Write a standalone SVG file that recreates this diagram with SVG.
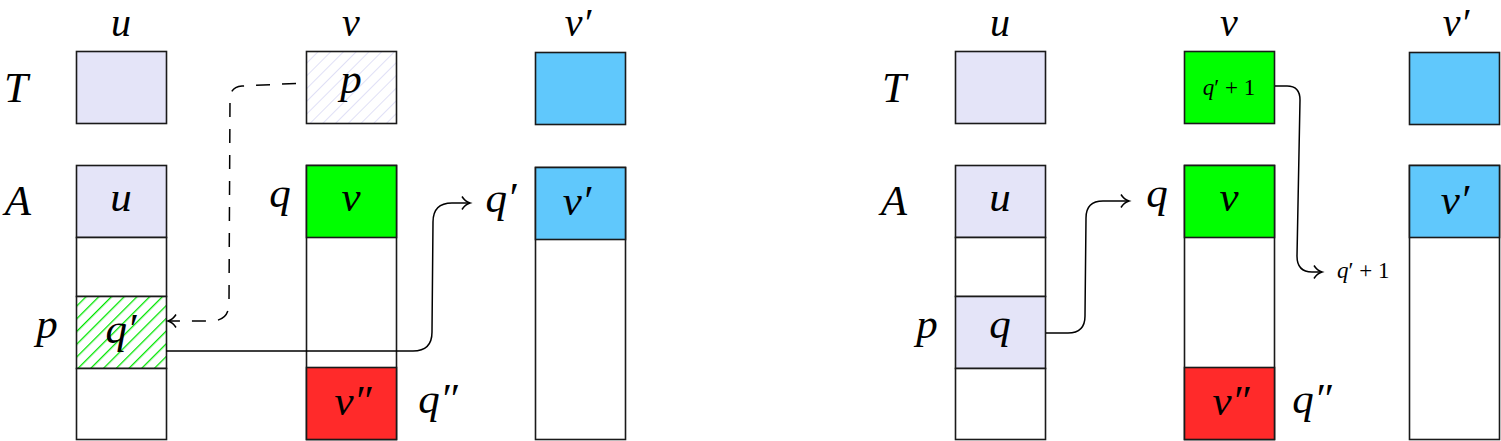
<svg xmlns="http://www.w3.org/2000/svg" width="1501" height="441" viewBox="0 0 1501 441">
<style>
.cell{stroke:#1a1a1a;stroke-width:1.6}
.lav{fill:#e4e4f8}
.grn{fill:#00ff00}
.red{fill:#ff2a2a}
.blu{fill:#60c8fc}
.wht{fill:#ffffff}
.m{font-family:"Liberation Serif","Times New Roman",serif;font-style:italic;font-size:43px;fill:#000;text-anchor:middle}
.top{font-size:40px}
.s{font-family:"Liberation Serif","Times New Roman",serif;font-size:23px;fill:#000}
.i{font-style:italic}
.conn{fill:none;stroke:#000;stroke-width:1.5}
.dash{stroke-dasharray:14 12;stroke-dashoffset:16}
</style>
<defs>
<pattern id="hatchLav" patternUnits="userSpaceOnUse" width="9" height="9" patternTransform="rotate(45)">
<rect width="9" height="9" fill="#fff"/>
<line x1="0" y1="0" x2="0" y2="9" stroke="#d8d8f4" stroke-width="1.6"/>
</pattern>
<pattern id="hatchGrn" patternUnits="userSpaceOnUse" width="9" height="9" patternTransform="rotate(45)">
<rect width="9" height="9" fill="#fff"/>
<line x1="0" y1="0" x2="0" y2="9" stroke="#00e600" stroke-width="2.6"/>
</pattern>
<marker id="to" markerWidth="14" markerHeight="16" refX="11" refY="8" orient="auto" markerUnits="userSpaceOnUse">
<path d="M3,1.5 Q6,6.5 11,8 Q6,9.5 3,14.5" fill="none" stroke="#000" stroke-width="1.5"/>
</marker>
</defs>

<!-- LEFT PANEL -->
<g id="labels-left">
<text class="m top" x="121" y="36">u</text>
<text class="m top" x="351" y="36">v</text>
<text class="m top" x="578" y="36">v′</text>
<text class="m" x="16" y="102">T</text>
<text class="m" x="18" y="215">A</text>
<text class="m" x="280" y="207">q</text>
<text class="m" x="47" y="338">p</text>
<text class="m" x="438" y="413">q″</text>
<text class="m" x="501" y="212">q′</text>
</g>
<g id="L-T-u"><rect class="cell lav" x="76.5" y="51.5" width="90" height="72"/></g>
<g id="L-T-v"><rect class="cell" fill="url(#hatchLav)" x="306.5" y="51.5" width="90" height="72"/><text class="m" x="351" y="93">p</text></g>
<g id="L-T-vp"><rect class="cell blu" x="535.5" y="52.5" width="90" height="72"/></g>
<g id="L-A-u">
<rect class="cell lav" x="76.5" y="165.5" width="90" height="72"/><text class="m" x="121" y="211">u</text>
<rect class="cell wht" x="76.5" y="237.5" width="90" height="59"/>
<rect class="cell" fill="url(#hatchGrn)" x="76.5" y="296.5" width="90" height="72"/><text class="m" x="121" y="343">q′</text>
<rect class="cell wht" x="76.5" y="368.5" width="90" height="71"/>
</g>
<g id="L-A-v">
<rect class="cell wht" x="306.5" y="165.5" width="90" height="274"/>
<rect class="cell grn" x="306.5" y="165.5" width="90" height="72"/><text class="m" x="351" y="211">v</text>
<rect class="cell red" x="306.5" y="367.5" width="90" height="72"/><text class="m" x="353" y="415">v″</text>
</g>
<g id="L-A-vp">
<rect class="cell wht" x="535.5" y="167.5" width="90" height="272"/>
<rect class="cell blu" x="535.5" y="167.5" width="90" height="72"/><text class="m" x="577" y="215">v′</text>
</g>

<!-- RIGHT PANEL -->
<g id="labels-right">
<text class="m top" x="1000" y="36">u</text>
<text class="m top" x="1229" y="36">v</text>
<text class="m top" x="1456" y="36">v′</text>
<text class="m" x="894" y="102">T</text>
<text class="m" x="894" y="215">A</text>
<text class="m" x="1157" y="207">q</text>
<text class="m" x="927" y="338">p</text>
<text class="m" x="1312" y="413">q″</text>
<text class="s" x="1337" y="278"><tspan class="i">q</tspan>′ + 1</text>
</g>
<g id="R-T-u"><rect class="cell lav" x="955.5" y="51.5" width="90" height="72"/></g>
<g id="R-T-v"><rect class="cell grn" x="1184.5" y="51.5" width="90" height="72"/><text class="s" x="1229" y="95" text-anchor="middle"><tspan class="i">q</tspan>′ + 1</text></g>
<g id="R-T-vp"><rect class="cell blu" x="1409.5" y="52.5" width="90" height="72"/></g>
<g id="R-A-u">
<rect class="cell lav" x="955.5" y="165.5" width="90" height="72"/><text class="m" x="1000" y="211">u</text>
<rect class="cell wht" x="955.5" y="237.5" width="90" height="59"/>
<rect class="cell lav" x="955.5" y="296.5" width="90" height="72"/><text class="m" x="1000" y="338">q</text>
<rect class="cell wht" x="955.5" y="368.5" width="90" height="71"/>
</g>
<g id="R-A-v">
<rect class="cell wht" x="1184.5" y="165.5" width="90" height="274"/>
<rect class="cell grn" x="1184.5" y="165.5" width="90" height="72"/><text class="m" x="1229" y="211">v</text>
<rect class="cell red" x="1184.5" y="367.5" width="90" height="72"/><text class="m" x="1231" y="415">v″</text>
</g>
<g id="R-A-vp">
<rect class="cell wht" x="1409.5" y="165.5" width="90" height="274"/>
<rect class="cell blu" x="1409.5" y="165.5" width="90" height="72"/><text class="m" x="1455" y="214">v′</text>
</g>

<g id="connectors">
<path class="conn dash" d="M306,83 L242,86 Q230,87 230,99 L229,303 Q229,321 211,321 L168,321" marker-end="url(#to)"/>
<path class="conn" d="M166,351 L413,351 Q432,351 432,332 L433,222 Q433,203 452,203 L470,203" marker-end="url(#to)"/>
<path class="conn" d="M1046,333 L1068,333 Q1085,333 1085,316 L1086,218 Q1086,201 1103,201 L1129,201" marker-end="url(#to)"/>
<path class="conn" d="M1275,86 L1287,86 Q1300,86 1300,100 L1297,256 Q1297,272 1312,272 L1322,272" marker-end="url(#to)"/>
</g>
</svg>
